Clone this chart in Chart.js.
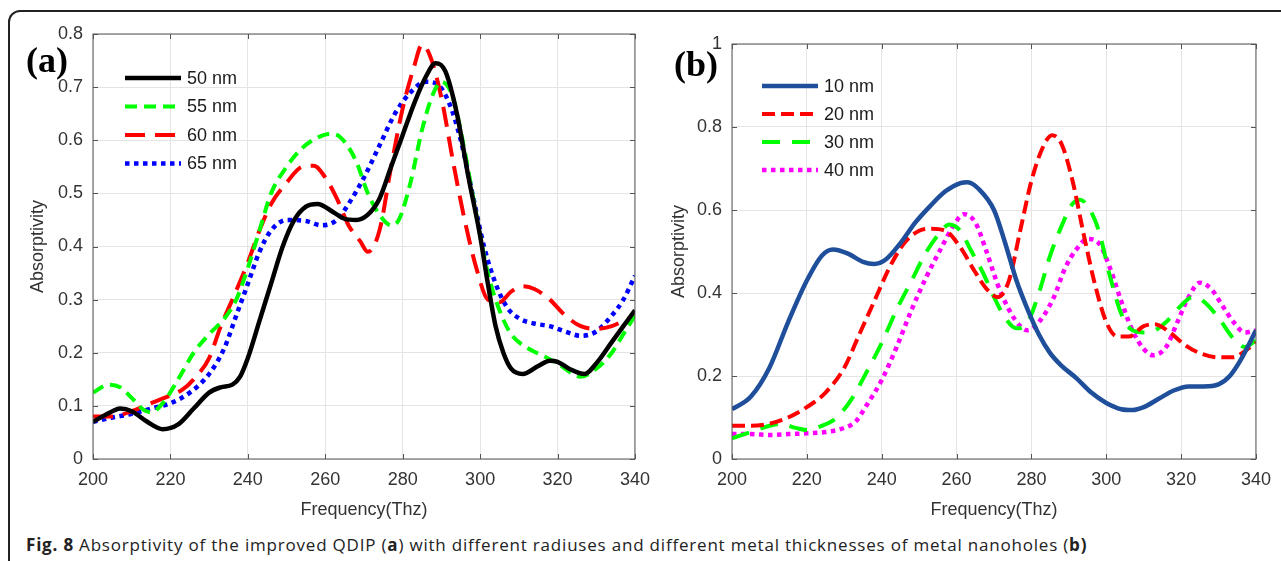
<!DOCTYPE html>
<html>
<head>
<meta charset="utf-8">
<script src="https://cdn.jsdelivr.net/npm/chart.js@4"></script>
<style>
  html, body { margin: 0; padding: 0; background: #fff; }
  body { width: 1281px; height: 561px; position: relative; overflow: hidden; }
  .frame {
    position: absolute; left: 8px; top: 10px; width: 1400px; height: 700px;
    border: 2px solid #222; border-radius: 12px; box-sizing: border-box;
  }
  #chartA { position: absolute; left: 0; top: 0; }
  #chartB { position: absolute; left: 640px; top: 0; }
  .caption {
    position: absolute; left: 26px; top: 533px;
    font-family: "Open Sans", sans-serif; font-size: 17px; letter-spacing: 0.8px;
    color: #222; white-space: nowrap;
  }
</style>
</head>
<body>
<div class="frame"></div>
<canvas id="chartA" width="660" height="530"></canvas>
<canvas id="chartB" width="641" height="530"></canvas>
<div class="caption"><b>Fig. 8</b> Absorptivity of the improved QDIP (<b>a</b>) with different radiuses and different metal thicknesses of metal nanoholes (<b>b)</b></div>

<script>
document.addEventListener("DOMContentLoaded", function () {

    // --- tick labels ---
    const freqTicks = [200, 220, 240, 260, 280, 300, 320, 340];
    const yTicksA = [0, 0.1, 0.2, 0.3, 0.4, 0.5, 0.6, 0.7, 0.8];
    const yTicksB = [0, 0.2, 0.4, 0.6, 0.8, 1];

    // --- (a) different radiuses ---
    const freq50 = [200, 205, 207, 210, 214, 218, 222, 226, 230, 233, 236, 238, 240, 243, 246, 249, 252, 255, 258, 262, 265, 268, 271, 274, 277, 280, 283, 286, 288.5, 291, 294, 297, 300, 302, 304, 306, 308, 311, 315, 318, 320, 323, 327, 330, 334, 337, 340];
    const abs50 = [0.07, 0.09, 0.095, 0.09, 0.07, 0.056, 0.065, 0.095, 0.125, 0.135, 0.14, 0.155, 0.19, 0.26, 0.33, 0.40, 0.45, 0.475, 0.48, 0.465, 0.452, 0.45, 0.46, 0.49, 0.55, 0.61, 0.67, 0.72, 0.745, 0.73, 0.65, 0.53, 0.42, 0.33, 0.25, 0.20, 0.17, 0.16, 0.175, 0.185, 0.183, 0.17, 0.16, 0.18, 0.22, 0.25, 0.28];

    const freq55 = [200, 204, 207, 210, 213, 215, 218, 222, 226, 230, 234, 237, 240, 243, 246, 250, 254, 258, 261, 264, 268, 271, 274, 277, 279, 282, 285, 288, 290, 293, 296, 299, 302, 305, 308, 312, 316, 320, 324, 326, 330, 334, 337, 340];
    const abs55 = [0.125, 0.14, 0.135, 0.115, 0.093, 0.088, 0.105, 0.15, 0.20, 0.235, 0.265, 0.30, 0.36, 0.43, 0.50, 0.55, 0.585, 0.605, 0.612, 0.605, 0.56, 0.50, 0.46, 0.44, 0.45, 0.52, 0.62, 0.69, 0.71, 0.68, 0.58, 0.46, 0.35, 0.28, 0.235, 0.21, 0.195, 0.18, 0.16, 0.155, 0.17, 0.20, 0.235, 0.27];

    const freq60 = [200, 205, 210, 215, 220, 223, 226, 230, 233, 236, 240, 243, 246, 250, 254, 257, 260, 263, 266, 269, 271, 274, 277, 280, 283, 285, 287, 290, 293, 296, 299, 302, 305, 308, 311, 314, 318, 322, 326, 330, 334, 337, 340];
    const abs60 = [0.08, 0.08, 0.09, 0.105, 0.12, 0.13, 0.15, 0.19, 0.25, 0.30, 0.37, 0.43, 0.48, 0.52, 0.55, 0.552, 0.53, 0.49, 0.44, 0.41, 0.39, 0.43, 0.55, 0.66, 0.74, 0.78, 0.76, 0.68, 0.56, 0.45, 0.36, 0.30, 0.295, 0.315, 0.325, 0.32, 0.30, 0.27, 0.25, 0.245, 0.25, 0.26, 0.27];

    const freq65 = [200, 205, 210, 215, 220, 225, 230, 234, 237, 240, 243, 246, 250, 255, 259, 263, 266, 270, 274, 278, 282, 286, 289, 292, 295, 298, 301, 304, 307, 310, 314, 318, 322, 326, 330, 334, 337, 340];
    const abs65 = [0.07, 0.078, 0.085, 0.095, 0.105, 0.125, 0.16, 0.21, 0.27, 0.33, 0.39, 0.43, 0.45, 0.448, 0.44, 0.45, 0.48, 0.53, 0.59, 0.65, 0.69, 0.71, 0.705, 0.67, 0.60, 0.50, 0.40, 0.33, 0.285, 0.265, 0.255, 0.25, 0.24, 0.232, 0.24, 0.27, 0.30, 0.345];

    // --- (b) different metal thicknesses ---
    const freq10 = [200, 205, 210, 215, 220, 224, 227, 231, 235, 238, 241, 245, 249, 253, 257, 261, 263, 266, 270, 273, 276, 279, 282, 285, 288, 292, 296, 300, 304, 307, 310, 314, 318, 322, 326, 330, 333, 336, 340];
    const abs10 = [0.12, 0.15, 0.22, 0.33, 0.43, 0.49, 0.505, 0.495, 0.475, 0.47, 0.48, 0.52, 0.57, 0.61, 0.645, 0.665, 0.667, 0.65, 0.60, 0.52, 0.43, 0.36, 0.30, 0.255, 0.225, 0.195, 0.16, 0.135, 0.12, 0.118, 0.125, 0.145, 0.165, 0.175, 0.175, 0.18, 0.20, 0.24, 0.31];

    const freq20 = [200, 205, 210, 215, 220, 225, 230, 234, 238, 242, 246, 250, 253, 257, 261, 265, 268, 271, 274, 277, 280, 283, 285.5, 288, 291, 294, 297, 300, 303, 306, 310, 313, 317, 321, 325, 330, 334, 337, 340];
    const abs20 = [0.08, 0.08, 0.085, 0.10, 0.125, 0.16, 0.22, 0.30, 0.38, 0.46, 0.52, 0.55, 0.555, 0.55, 0.51, 0.45, 0.41, 0.39, 0.43, 0.55, 0.67, 0.75, 0.78, 0.76, 0.67, 0.54, 0.42, 0.33, 0.295, 0.295, 0.32, 0.325, 0.305, 0.275, 0.255, 0.245, 0.245, 0.26, 0.28];

    const freq30 = [200, 205, 210, 213, 217, 220, 224, 228, 232, 236, 240, 244, 248, 252, 256, 258, 261, 264, 267, 270, 273, 276, 279, 282, 285, 288, 291, 293, 295, 298, 301, 304, 307, 310, 313, 316, 320, 323, 326, 330, 334, 337, 340];
    const abs30 = [0.05, 0.065, 0.08, 0.085, 0.075, 0.07, 0.08, 0.10, 0.145, 0.21, 0.28, 0.36, 0.43, 0.50, 0.55, 0.565, 0.55, 0.50, 0.45, 0.39, 0.34, 0.315, 0.33, 0.40, 0.49, 0.56, 0.615, 0.625, 0.61, 0.55, 0.44, 0.35, 0.31, 0.305, 0.31, 0.33, 0.37, 0.39, 0.38, 0.34, 0.29, 0.27, 0.285];

    const freq40 = [200, 205, 210, 215, 220, 225, 230, 233, 236, 240, 244, 248, 252, 256, 259, 262, 265, 268, 271, 274, 277, 279, 282, 286, 289, 292, 295, 298, 301, 304, 307, 310, 312.5, 316, 319, 322, 325, 328, 331, 334, 337, 340];
    const abs40 = [0.06, 0.06, 0.058, 0.06, 0.062, 0.065, 0.075, 0.09, 0.13, 0.19, 0.27, 0.36, 0.44, 0.51, 0.56, 0.59, 0.57, 0.50, 0.42, 0.36, 0.32, 0.31, 0.33, 0.39, 0.46, 0.505, 0.53, 0.52, 0.46, 0.38, 0.31, 0.265, 0.25, 0.27, 0.33, 0.39, 0.425, 0.41, 0.37, 0.33, 0.305, 0.31];

    const toPoints = (xs, ys) => xs.map((x, i) => ({ x: x, y: ys[i] }));

    // 軸の枠・内向き目盛り・凡例・(a)(b) ラベル
    const matlabDecor = {
        id: 'matlabDecor',
        afterDraw(chart, args, opts) {
            const ctx = chart.ctx;
            const area = chart.chartArea;
            const xs = chart.scales.x, ys = chart.scales.y;
            ctx.save();
            ctx.strokeStyle = '#555';
            ctx.lineWidth = 1;
            ctx.strokeRect(area.left, area.top, area.right - area.left, area.bottom - area.top);
            ctx.beginPath();
            xs.ticks.forEach(t => {
                const px = Math.round(xs.getPixelForValue(t.value)) + 0.5;
                ctx.moveTo(px, area.bottom); ctx.lineTo(px, area.bottom - 5);
                ctx.moveTo(px, area.top); ctx.lineTo(px, area.top + 5);
            });
            ys.ticks.forEach(t => {
                const py = Math.round(ys.getPixelForValue(t.value)) + 0.5;
                ctx.moveTo(area.left, py); ctx.lineTo(area.left + 5, py);
                ctx.moveTo(area.right, py); ctx.lineTo(area.right - 5, py);
            });
            ctx.stroke();

            // legend
            ctx.font = '18px "Liberation Sans", Arial, sans-serif';
            ctx.textBaseline = 'middle';
            ctx.fillStyle = '#1a1a1a';
            chart.data.datasets.forEach((ds, i) => {
                const y = opts.legendY + i * opts.legendGap;
                ctx.save();
                ctx.strokeStyle = ds.borderColor;
                ctx.lineWidth = ds.borderWidth;
                ctx.setLineDash(ds.borderDash || []);
                ctx.beginPath();
                ctx.moveTo(opts.legendX, y);
                ctx.lineTo(opts.legendX + 56, y);
                ctx.stroke();
                ctx.restore();
                ctx.fillText(ds.label, opts.legendX + 62, y + 1);
            });

            // panel label
            ctx.font = 'bold 36px "Liberation Serif", "Times New Roman", serif';
            ctx.fillStyle = '#000';
            ctx.fillText(opts.panel, opts.panelX, opts.panelY);
            ctx.restore();
        }
    };

    function makeChart(canvasId, datasets, yTicks, yMax, layout, decor) {
        const ctx = document.getElementById(canvasId).getContext("2d");
        return new Chart(ctx, {
            type: 'line',
            data: { datasets: datasets },
            plugins: [matlabDecor],
            options: {
                responsive: false,
                animation: false,
                layout: { padding: layout.padding },
                elements: {
                    point: { radius: 0 },
                    line: { cubicInterpolationMode: 'monotone', borderCapStyle: 'butt', fill: false }
                },
                scales: {
                    x: {
                        type: 'linear',
                        min: 200,
                        max: 340,
                        afterBuildTicks: s => { s.ticks = freqTicks.map(v => ({ value: v })); },
                        afterFit: s => { s.height = layout.xAxisHeight; },
                        grid: { color: '#e4e4e4', drawTicks: false },
                        border: { display: false },
                        ticks: {
                            padding: 10,
                            color: '#333',
                            font: { family: '"Liberation Sans", Arial, sans-serif', size: 18 }
                        },
                        title: {
                            display: true,
                            text: 'Frequency(Thz)',
                            color: '#333',
                            padding: { top: 0, bottom: layout.xTitlePad },
                            font: { family: '"Liberation Sans", Arial, sans-serif', size: 18 }
                        }
                    },
                    y: {
                        type: 'linear',
                        min: 0,
                        max: yMax,
                        afterBuildTicks: s => { s.ticks = yTicks.map(v => ({ value: v })); },
                        afterFit: s => { s.width = layout.yAxisWidth; },
                        grid: { color: '#e4e4e4', drawTicks: false },
                        border: { display: false },
                        ticks: {
                            padding: 10,
                            color: '#333',
                            callback: v => String(Math.round(v * 10) / 10),
                            font: { family: '"Liberation Sans", Arial, sans-serif', size: 18 }
                        },
                        title: {
                            display: true,
                            text: 'Absorptivity',
                            color: '#333',
                            padding: { top: layout.yTitlePad, bottom: 0 },
                            font: { family: '"Liberation Sans", Arial, sans-serif', size: 18 }
                        }
                    }
                },
                plugins: {
                    legend: { display: false },
                    tooltip: { enabled: false },
                    matlabDecor: decor
                }
            }
        });
    }

    // --- (a) ---
    makeChart("chartA", [
        { label: '50 nm', data: toPoints(freq50, abs50), borderColor: '#000000', borderWidth: 4.5 },
        { label: '55 nm', data: toPoints(freq55, abs55), borderColor: '#00ff00', borderWidth: 4, borderDash: [12, 7] },
        { label: '60 nm', data: toPoints(freq60, abs60), borderColor: '#ff0000', borderWidth: 4, borderDash: [20, 10] },
        { label: '65 nm', data: toPoints(freq65, abs65), borderColor: '#0000ff', borderWidth: 4.5, borderDash: [4.5, 4.5] }
    ], yTicksA, 0.8, {
        padding: { left: 0, top: 34, right: 25, bottom: 0 },
        xAxisHeight: 71, yAxisWidth: 93, xTitlePad: 9, yTitlePad: 27
    }, { legendX: 125, legendY: 78, legendGap: 28.5, panel: '(a)', panelX: 26, panelY: 63 });

    // --- (b) ---
    makeChart("chartB", [
        { label: '10 nm', data: toPoints(freq10, abs10), borderColor: '#1f4e9a', borderWidth: 4.5 },
        { label: '20 nm', data: toPoints(freq20, abs20), borderColor: '#ff0000', borderWidth: 4, borderDash: [13, 6] },
        { label: '30 nm', data: toPoints(freq30, abs30), borderColor: '#00ff00', borderWidth: 4, borderDash: [18, 12] },
        { label: '40 nm', data: toPoints(freq40, abs40), borderColor: '#ff00ff', borderWidth: 4.5, borderDash: [4.5, 4.5] }
    ], yTicksB, 1, {
        padding: { left: 0, top: 44, right: 22, bottom: 0 },
        xAxisHeight: 71, yAxisWidth: 92, xTitlePad: 9, yTitlePad: 28
    }, { legendX: 122, legendY: 86, legendGap: 28, panel: '(b)', panelX: 34, panelY: 67 });
});
</script>
</body>
</html>
